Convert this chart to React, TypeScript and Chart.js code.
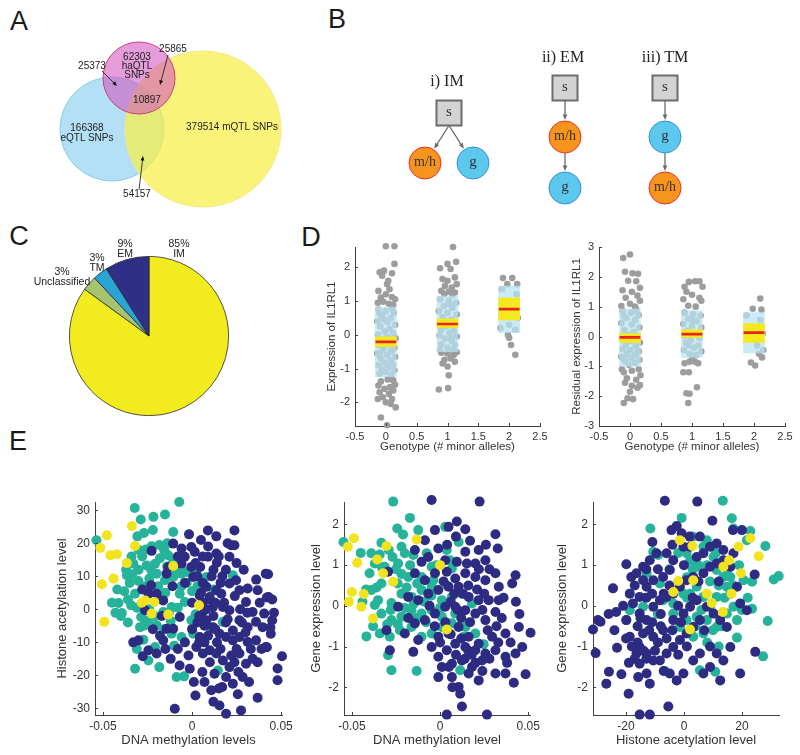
import React, { useEffect, useRef } from 'react';
import { Chart, registerables } from 'chart.js';
Chart.register(...registerables);

const SANS = '"Liberation Sans", Arial, Helvetica, sans-serif';
const SERIF = '"Liberation Serif", "Times New Roman", serif';
const AXIS = '#404040';
const TXT = '#333333';

// ---------------- Panel A: Venn ----------------
const vennSets = ['eQTL SNPs', 'mQTL SNPs', 'haQTL SNPs'];
const vennUnique = [166368, 379514, 62303];
const vennEHa = 25373;
const vennHaM = 25865;
const vennAll = 10897;
const vennEM = 54157;
// circle geometry (layout units of the diagram)
const vennCx = [112, 203, 139];
const vennCy = [129, 129, 78];
const vennR = [52, 78, 36];

// ---------------- Panel B: models ----------------
const bModels = ['i) IM', 'ii) EM', 'iii) TM'];
const bNodeLabel = ['s', 'm/h', 'g', 's', 'm/h', 'g', 's', 'g', 'm/h'];
const bNodeX = [449, 425, 473, 565, 565, 565, 665, 665, 665];
const bNodeY = [113, 163, 163, 88, 137, 188, 88, 137, 188];
const bEdges = [[0, 1], [0, 2], [3, 4], [4, 5], [6, 7], [7, 8]];

// ---------------- Panel C: pie ----------------
const pieLabels = ['IM', 'Unclassified', 'TM', 'EM'];
const pieValues = [85, 3, 3, 9];

// ---------------- Panel D ----------------
const genotypes = [0, 1, 2];
const dLeftPoints = [
  [0.0,2.62],[0.14,2.62],[0.14,2.1],[-0.1,1.85],[-0.03,1.9],[0.1,1.82],[-0.06,1.75],[0.04,1.6],[0.02,1.5],[-0.12,1.3],[0.06,1.35],[0.0,1.2],[-0.08,1.1],[0.1,1.12],[0.15,1.05],[-0.04,0.98],[0.05,0.92],[-0.13,0.95],[0.12,0.88],
  [-0.08,-1.38],[0.03,-1.32],[0.12,-1.35],[-0.12,-1.5],[0.07,-1.55],[-0.02,-1.6],[0.15,-1.48],[-0.1,-1.7],[0.05,-1.75],[-0.05,-1.85],[0.1,-1.9],[-0.13,-1.9],[0.0,-2.0],[0.08,-2.05],[0.16,-2.15],[-0.08,-2.45],[0.02,-2.68],[0.12,-1.65],
  [-0.12,0.75],[0.0,0.7],[0.13,0.65],[-0.06,0.55],[0.08,0.5],[-0.14,0.4],[0.03,0.38],[0.15,0.3],[-0.09,0.25],[0.06,0.18],[-0.02,0.1],[0.12,0.05],[-0.13,0.0],[0.02,-0.05],[0.16,-0.1],[-0.07,-0.15],[0.09,-0.2],[-0.12,-0.3],[0.0,-0.32],[0.14,-0.38],[-0.05,-0.45],[0.07,-0.5],[-0.14,-0.55],[0.02,-0.6],[0.15,-0.65],[-0.08,-0.7],[0.08,-0.75],[-0.02,-0.82],[0.12,-0.88],[-0.12,-0.9],[0.04,-0.95],[-0.06,-1.02],[0.14,-1.05],[0.0,-1.1],[-0.1,-1.15],[0.09,-1.18],[-0.03,0.45],[0.1,0.78],[-0.1,0.62],[0.05,-0.28],[-0.1,-0.62],[0.11,-0.45],
  [1.09,2.6],[0.88,1.97],[1.0,2.1],[1.14,2.16],[1.05,1.95],[0.92,1.65],[1.0,1.6],[1.12,1.7],[0.96,1.45],[1.07,1.4],[1.15,1.5],[0.9,1.3],[1.02,1.28],[1.12,1.25],[0.95,1.2],[1.08,1.18],
  [0.9,-0.53],[1.0,-0.55],[1.1,-0.6],[1.15,-0.52],[0.95,-0.74],[1.05,-0.7],[1.12,-0.8],[1.0,-0.94],[0.92,-0.85],[1.02,-1.2],[0.86,-1.62],[1.01,-1.58],
  [0.88,1.05],[1.02,1.0],[1.14,0.95],[0.94,0.85],[1.08,0.8],[0.86,0.7],[1.0,0.65],[1.15,0.6],[0.92,0.52],[1.06,0.45],[0.88,0.35],[1.12,0.3],[0.98,0.25],[0.9,0.15],[1.1,0.12],[1.03,0.05],[0.87,-0.02],[1.15,-0.05],[0.96,-0.12],[1.07,-0.18],[0.9,-0.28],[1.12,-0.3],[1.0,-0.38],[0.88,-0.45],[1.1,-0.45],[1.04,0.9],[0.96,0.4],[1.06,-0.1],
  [1.9,1.68],[2.05,1.68],[1.97,1.5],[2.13,1.5],[1.98,0.0],[2.0,-0.09],[2.03,-0.3],[2.1,-0.59],
  [1.88,1.35],[2.12,1.2],[1.95,1.0],[2.08,0.85],[1.9,0.6],[2.14,0.5],[2.0,0.3],[1.86,0.2],[2.1,0.15]
];
const dLeftBlue = [[-1.24, 0.82], [-0.5, 1.15], [0.06, 1.44]];
const dLeftYellow = [[-0.35, -0.06], [0.21, 0.47], [0.44, 1.09]];
const dLeftMean = [-0.21, 0.32, 0.76];

const dRightPoints = [
  [-0.11,2.63],[0.0,2.75],[-0.08,2.17],[0.04,2.12],[0.13,2.1],[-0.03,1.87],[0.1,1.85],[0.16,1.63],[-0.12,1.55],[0.03,1.5],[0.12,1.37],[-0.07,1.3],[0.16,1.2],[0.0,1.1],[-0.14,1.02],[0.08,1.0],
  [-0.1,-1.2],[0.03,-1.15],[0.14,-1.1],[-0.05,-1.4],[0.1,-1.45],[0.16,-1.63],[0.03,-1.65],[0.12,-1.72],[-0.08,-1.55],[0.17,-1.3],[-0.04,-2.07],[0.05,-2.1],[-0.1,-2.23],[0.0,-1.85],[-0.13,-1.1],
  [-0.12,0.85],[0.02,0.8],[0.14,0.72],[-0.06,0.62],[0.08,0.55],[-0.14,0.45],[0.03,0.4],[0.15,0.3],[-0.09,0.22],[0.06,0.15],[-0.02,0.05],[0.12,-0.02],[-0.13,-0.08],[0.02,-0.15],[0.16,-0.2],[-0.07,-0.28],[0.09,-0.33],[-0.12,-0.42],[0.0,-0.45],[0.14,-0.5],[-0.05,-0.58],[0.07,-0.62],[-0.14,-0.68],[0.02,-0.72],[0.15,-0.78],[-0.08,-0.82],[0.08,-0.88],[-0.02,-0.95],[0.1,0.9],[-0.1,0.68],[0.05,-0.1],[-0.1,-0.75],[0.11,-0.55],
  [0.88,1.67],[0.95,1.83],[1.05,1.85],[1.12,1.85],[1.17,1.67],[0.91,1.5],[1.0,1.4],[1.12,1.3],[0.94,1.03],[1.06,1.0],[1.15,1.2],[0.86,1.25],
  [0.88,-0.9],[0.96,-0.85],[1.05,-0.85],[1.1,-0.9],[0.86,-1.2],[0.95,-1.2],[1.08,-1.7],[0.91,-1.9],[0.96,-1.92],[0.94,-2.23],[1.0,-0.75],
  [0.88,0.8],[1.02,0.75],[1.14,0.7],[0.94,0.6],[1.08,0.52],[0.86,0.42],[1.0,0.35],[1.15,0.3],[0.92,0.2],[1.06,0.12],[0.88,0.02],[1.12,-0.05],[0.98,-0.12],[0.9,-0.22],[1.1,-0.3],[1.03,-0.38],[0.87,-0.45],[1.15,-0.5],[0.96,-0.58],[1.07,-0.62],[1.0,0.55],[0.95,-0.3],
  [2.1,1.27],[1.98,0.93],[2.12,0.9],[2.08,-0.58],[1.95,-0.87],[2.13,-0.7],[2.02,-0.97],
  [1.88,0.7],[2.1,0.55],[1.96,0.3],[2.14,0.1],[1.9,-0.1],[2.05,-0.3],[2.15,-0.45]
];
const dRightBlue = [[-1.0, 0.93], [-0.7, 0.87], [-0.55, 0.8]];
const dRightYellow = [[-0.2, 0.1], [-0.03, 0.23], [-0.2, 0.43]];
const dRightMean = [-0.03, 0.08, 0.13];

// ---------------- Panel E ----------------
const e1Yellow = [[-0.0478,22.4],[-0.0515,18.6],[-0.0459,16.4],[-0.0422,16.7],[-0.0506,7.6],[-0.0441,9.3],[-0.0493,-3.8],[-0.0338,25.2],[-0.032,19.2],[-0.0366,14.0],[-0.0264,2.7],[-0.0283,2.0],[-0.0227,-1.3],[-0.0106,13.1],[0.0039,1.2],[-0.0134,-1.6],[-0.0212,2.2]];
const e1Teal = [[-0.0537,20.9],[-0.0322,30.7],[-0.0288,27.2],[-0.0217,28.0],[-0.0152,28.7],[-0.0072,32.5],[-0.027,23.1],[-0.0307,22.1],[-0.0106,23.4],[-0.026,18.1],[-0.0227,19.1],[-0.0184,19.5],[-0.0156,17.9],[-0.0134,16.4],[-0.0106,14.3],[-0.0255,13.3],[-0.0208,13.8],[-0.0329,13.8],[-0.0366,10.3],[-0.0335,10.6],[-0.0301,8.6],[-0.024,9.3],[-0.0199,10.8],[-0.0152,8.8],[-0.0106,9.8],[-0.0059,10.8],[-0.0032,11.3],[0.0024,11.3],[0.008,9.8],[0.0229,10.3],[-0.0413,1.9],[-0.0394,-1.1],[-0.0342,1.2],[-0.032,4.7],[-0.0286,-2.3],[-0.0292,-5.4],[-0.0245,-3.3],[-0.0199,-4.8],[-0.0162,-0.8],[-0.0115,0.7],[-0.0069,4.7],[-0.0041,2.2],[-0.0004,-3.3],[0.0052,-3.3],[0.0099,-5.4],[0.0173,-3.8],[-0.0273,-9.2],[-0.0208,-11.4],[-0.0245,-15.5],[-0.0184,-17.5],[-0.032,-18.0],[-0.0087,-20.5],[-0.0045,-20.3],[-0.0115,-7.4],[-0.0059,-8.4],[0.0006,-7.4],[0.0145,-18.5],[-0.038,5.5],[-0.036,-4.0],[-0.031,0.5],[-0.021,5.0],[-0.012,-3.5],[-0.006,7.0],[0.0,5.5],[-0.017,3.0],[-0.026,7.0],[-0.014,13.0],[-0.018,15.5],[-0.008,0.5],[0.002,-1.5],[0.012,6],[-0.035,8.0],
  [-0.045,2],[-0.042,6],[-0.04,-2],[-0.037,12],[-0.034,16],[-0.03,12],[-0.028,16],[-0.023,12],[-0.019,7],[-0.015,5],[-0.013,-1],[-0.009,12],[-0.003,8],[0.003,7],[-0.027,-5],[-0.024,0],[-0.021,-2],[-0.016,-6],[-0.01,-11],[-0.031,-12],[-0.036,3],[-0.043,-1],[-0.014,20],[-0.022,24],[-0.03,18]];
const e1Navy = [[-0.0017,22.7],[-0.0106,19.9],[-0.0227,17.7],[-0.0004,18.9],[-0.0059,18.4],[-0.0041,15.9],[0.0015,17.4],[0.0089,23.9],[0.0136,22.1],[0.0238,23.9],[0.0219,19.4],[0.0238,19.4],[0.021,15.9],[0.0136,16.9],[0.0089,15.9],[0.0139,14.1],[0.0046,12.8],[0.0006,9.8],[0.008,6.8],[0.0043,4.2],[0.0099,3.7],[0.0136,5.8],[0.0164,4.7],[0.021,7.8],[0.0247,8.8],[0.0266,5.8],[0.0312,6.3],[0.0368,5.8],[0.0303,2.2],[0.034,-0.8],[0.0405,-1.3],[0.0414,10.8],[0.0429,3.7],[0.0396,-5.4],[0.0359,-3.8],[0.0312,-5.4],[0.0266,-3.3],[0.0229,-6.4],[0.021,-0.3],[0.0173,0.7],[0.0117,0.7],[0.0071,-0.3],[0.0052,-2.3],[0.008,-3.3],[0.0117,-5.4],[0.0154,-7.4],[0.0191,-8.4],[0.0229,-9.4],[0.0266,-8.4],[0.0312,-9.9],[0.0359,-9.4],[0.0414,-11.4],[0.0442,-7.4],[0.0043,-8.4],[0.0024,-11.4],[0.0061,-13.4],[0.0099,-12.4],[0.0136,-13.4],[0.0173,-15.5],[0.021,-17.5],[0.0238,-16.0],[0.0266,-13.4],[0.0303,-16.5],[0.0368,-16.0],[-0.0013,-18.0],[0.0058,-19.0],[0.0126,-19.5],[0.0169,-23.5],[0.0191,-20.5],[0.0229,-22.5],[0.0284,-20.5],[0.0257,-25.7],[0.0108,-24.5],[0.0019,-26.1],[0.0154,-29.1],[0.0191,-31.6],[0.0275,-30.6],[0.0368,-26.8],[-0.0097,-30.1],[-0.0106,-5.9],[-0.0069,-2.3],[-0.0143,-5.9],[-0.0162,-9.4],[-0.0199,-13.4],[-0.0245,-12.4],[-0.0301,-9.4],[-0.0277,-14.2],[-0.023,7.3],[-0.0199,4.7],[-0.0245,4.7],[-0.0162,2.7],[-0.0134,12.8],[-0.0143,10.8],[-0.0059,13.8],[-0.0004,12.8],[-0.0264,-0.3],[0.0427,10.6],[0.042,3.6],[0.045,-3.3],[0.044,-5.5],[0.042,-11.5],[0.0505,-14.2],[0.048,-17.9],[0.048,-21.5],[0.006,2],[0.007,-5],[0.006,8],[0.008,0],[0.009,-8],[0.005,5],[0.010,3],[0.003,-4],[0.012,-2],[0.011,10],[0.004,-10],[0.014,-10],[0.018,2],[0.02,-3],[0.017,10],[0.027,0],[0.029,12],[0.033,-12],[0.038,2],[0.015,-24],[0.025,-12],[-0.002,-14],[0.0,-6],[-0.004,8],[-0.008,-12],[-0.012,-15],[-0.017,-2],[-0.028,6],[-0.033,-10],[-0.022,-6],
  [0.002,14],[0.006,16],[0.012,12],[0.016,8],[0.019,12],[0.024,4],[0.028,-4],[0.031,-1],[0.036,9],[0.004,-2],[0.007,-10],[0.01,-16],[0.013,-6],[0.016,-12],[0.019,-4],[0.022,-14],[0.026,-19],[0.032,-22],[0.03,-7],[0.034,-15],[0.039,-12],[0.001,-22],[0.007,-22],[0.012,-28],[-0.004,-10],[-0.007,-17],[-0.015,-12],[-0.018,-8],[0.009,19],[0.005,21],[-0.008,16],[-0.011,7],[0.0,2],[0.003,10],[0.015,16],[0.02,20],[0.045,3],[0.046,-1],[0.025,14],[0.013,2]];

const e2Yellow = [[-0.0489,1.66],[-0.0523,1.45],[-0.047,1.06],[-0.050,0.34],[-0.0517,0.10],[-0.0433,0.29],[-0.0447,-0.02],[-0.038,-0.31],[-0.0357,1.14],[-0.0304,1.47],[-0.0323,0.80],[-0.0266,0.59],[-0.0133,1.63],[0.0,1.0],[0.0038,-0.58]];
const e2Teal = [[-0.0548,1.57],[-0.0266,2.56],[-0.0171,2.16],[-0.0243,1.90],[-0.0333,1.55],[-0.0291,1.37],[-0.039,1.29],[-0.0342,1.26],[-0.037,1.04],[-0.0314,0.96],[-0.0219,1.45],[-0.020,1.29],[-0.0152,1.25],[-0.0124,1.86],[-0.0076,1.29],[-0.0048,0.96],[0.0029,1.94],[0.0038,1.37],[0.0105,1.57],[0.0057,1.12],[0.0067,0.92],[-0.0238,1.04],[-0.0181,0.71],[-0.0105,0.71],[-0.0038,0.63],[-0.0333,0.55],[-0.039,0.39],[-0.0352,0.14],[-0.0276,0.07],[-0.0219,0.30],[-0.0162,0.22],[-0.0105,0.39],[-0.0048,0.47],[0.001,0.14],[0.0067,0.22],[0.0124,0.30],[0.0181,0.06],[-0.0333,-0.19],[-0.0276,-0.35],[-0.0219,-0.27],[-0.0162,-0.11],[-0.0105,-0.19],[-0.0048,-0.11],[0.001,-0.27],[0.0086,-0.19],[0.0143,-0.52],[0.020,-0.68],[-0.0418,-0.75],[-0.0342,-0.68],[-0.0285,-0.76],[-0.0228,-0.60],[-0.0162,-0.52],[-0.0105,-0.76],[-0.0048,-0.68],[0.001,-0.52],[0.0067,-0.43],[0.0133,-0.76],[0.0247,-0.94],[-0.0295,-1.21],[-0.0276,-1.58],[-0.0133,-1.60],[0.0114,-1.58],[-0.0219,0.78],[-0.037,0.02],[-0.036,0.45],[-0.025,0.9],[-0.015,0.05],[-0.008,-0.4],[-0.02,-0.05],[-0.03,-0.45],[0.004,0.5],[-0.045,1.3],
  [-0.04,0.8],[-0.042,0.4],[-0.038,-0.5],[-0.033,0.95],[-0.027,1.2],[-0.024,0.55],[-0.019,0.45],[-0.013,0.55],[-0.009,0.1],[-0.005,0.25],[-0.002,1.0],[-0.028,-0.1],[-0.024,-0.45],[-0.013,-0.3],[0.0,-0.05],[-0.017,1.0],[-0.021,1.75],[-0.044,0.1]];
const e2Navy = [[-0.0048,2.60],[0.0224,2.56],[0.0095,2.07],[0.0143,1.88],[0.0048,1.94],[-0.0029,1.86],[0.0314,1.76],[0.0327,1.41],[0.0219,1.37],[0.0143,1.33],[-0.001,1.41],[-0.0086,1.61],[-0.0143,1.37],[-0.0105,1.08],[-0.0067,1.20],[0.0029,1.12],[0.0095,1.08],[0.0152,1.04],[0.020,1.04],[0.0257,1.12],[0.0314,0.80],[0.0428,0.75],[0.0409,0.55],[0.0333,0.47],[0.0257,0.63],[0.020,0.71],[0.0143,0.80],[0.0086,0.67],[0.0038,0.84],[-0.0029,0.80],[-0.0086,0.63],[-0.0143,0.80],[-0.0181,0.22],[-0.0124,0.14],[-0.0067,0.30],[-0.001,0.39],[0.0048,0.47],[0.0105,0.47],[0.0162,0.22],[0.0219,0.14],[0.0276,0.14],[0.0333,0.14],[0.0314,-0.15],[0.0257,-0.35],[0.020,-0.19],[0.0143,-0.11],[0.0086,-0.02],[0.0029,-0.02],[-0.0029,-0.19],[-0.0086,-0.35],[-0.0143,-0.43],[-0.001,-0.76],[0.0048,-0.68],[0.0105,-0.52],[0.0162,-0.76],[0.0219,-0.93],[0.0295,-0.76],[0.0371,-0.68],[0.0447,-0.52],[0.0513,-0.66],[0.0466,-1.01],[0.0428,-1.17],[0.0371,-1.25],[0.0314,-1.09],[0.0257,-1.17],[0.020,-1.09],[0.0143,-1.01],[0.0086,-0.93],[0.0038,-1.09],[-0.001,-1.25],[-0.0048,-1.01],[0.001,-1.50],[0.0067,-1.42],[0.0124,-1.34],[0.0181,-1.50],[0.0238,-1.34],[0.0314,-1.66],[0.0371,-1.66],[0.0418,-1.89],[0.0485,-1.68],[0.0219,-1.83],[0.0162,-1.66],[0.0105,-1.99],[0.0067,-1.75],[-0.001,-1.75],[0.0114,-2.16],[0.0124,-2.47],[0.0038,-2.67],[0.0266,-2.67],[-0.0285,-1.09],[-0.0152,-1.13],[-0.0304,-0.60],[-0.020,-0.68],[-0.0124,-0.84],[-0.0295,0.84],[-0.0238,-0.02],[0.008,0.3],[0.012,-0.3],[0.006,-0.7],[0.016,0.5],[0.002,0.6],[0.018,-1.2],[0.024,-0.1],[0.028,0.9],[0.035,-0.3],[0.04,-0.9],[0.014,-1.3],[0.005,-1.5],
  [0.006,0.1],[0.01,-0.1],[0.013,0.3],[0.017,-0.4],[0.021,0.4],[0.025,0.3],[0.027,-0.6],[0.032,-0.5],[0.009,-1.2],[0.012,-0.8],[0.016,-1.1],[0.02,-1.4],[0.024,-1.6],[0.028,-1.3],[0.033,-0.9],[0.036,0.2],[0.038,-1.4],[0.003,-0.4],[-0.003,-0.5],[-0.006,0.0],[0.004,1.5],[0.009,1.7],[0.017,1.6],[0.022,0.9],[0.026,1.5],[0.0,-0.9],[0.007,-2.0],[0.043,0.1],[0.045,-0.2],[-0.018,-0.3]];

const e3Yellow = [[-1.4,1.61],[2.9,1.47],[15.6,1.12],[18.8,1.45],[22.9,1.66],[25.8,1.22],[19.7,0.80],[16.4,0.30],[13.4,-0.15],[2.1,-0.58],[-3.7,0.34],[-2.0,0.61],[9.6,0.07],[7.9,0.30],[3.2,0.63],[13.6,0.96]];
const e3Teal = [[13.4,2.58],[-0.8,2.16],[-11.6,1.90],[-10.6,1.33],[-8.9,1.25],[16.5,2.15],[17.1,1.90],[22.9,1.84],[21.7,1.61],[28.1,1.47],[31.0,0.65],[32.7,0.73],[23.5,0.59],[23.5,-0.07],[28.9,-0.37],[27.3,-1.24],[18.3,-0.78],[10.8,-1.62],[5.5,-1.58],[-6.6,-1.60],[-19.9,-0.35],[-18.7,-0.11],[-12.9,0.80],[-8.3,0.55],[-7.2,0.14],[-3.7,0.06],[-0.2,0.30],[0.9,1.29],[2.1,1.12],[4.4,0.96],[6.7,1.45],[7.9,1.61],[10.2,1.20],[11.3,0.88],[13.6,0.71],[14.8,0.47],[16.0,0.30],[17.1,-0.02],[11.3,0.22],[9.0,-0.02],[6.7,0.22],[4.4,0.47],[2.1,0.30],[0.9,-0.35],[4.4,-0.27],[7.9,-0.35],[11.3,-0.52],[14.8,-0.19],[6.7,-0.68],[3.2,-0.76],[-1.4,-0.52],[-3.7,-0.19],[18.3,-0.35],[16.0,0.71],[20.6,0.63],[-14.1,-0.02],[8,1.0],[12,0.5],[3,0.9],[-2,1.3],[6,-0.1],[10,-0.6],[14,0.2],[1,0.2],
  [5,1.0],[9,0.6],[11,1.3],[13,-0.5],[15,0.9],[17,0.5],[19,1.0],[20,-0.1],[4,-0.5],[8,-0.9],[12,-1.0],[1,0.7],[-5,0.9],[-9,-0.2],[3,1.7],[22,0.2]];
const e3Navy = [[-6.6,2.58],[4.6,2.56],[9.8,2.09],[-4.3,1.86],[-2.5,1.96],[-0.8,1.78],[-10.9,1.57],[16.9,1.86],[20.0,1.86],[-19.9,1.02],[-18.2,0.71],[-16.4,0.80],[-24.5,0.43],[-23.4,-0.15],[-31.4,-0.58],[-29.7,-0.35],[-28.8,-0.39],[-30.5,-1.16],[-23.1,-1.03],[-25.9,-1.62],[-26.8,-1.91],[-21.6,-1.68],[-19.1,-2.16],[-15.3,-2.67],[-11.8,-2.67],[-5.4,-2.47],[-15.8,-1.75],[-11.8,-1.91],[-16.4,-1.17],[-18.7,-0.76],[-19.9,-0.35],[-17.6,0.06],[-18.7,0.30],[-15.3,0.22],[-12.9,0.47],[-10.6,0.63],[-7.2,0.71],[-4.9,0.88],[-3.7,1.12],[-6.0,1.29],[-9.5,1.29],[-11.8,1.12],[-14.1,0.96],[-14.1,0.63],[-15.3,-0.19],[-12.9,-0.35],[-10.6,-0.02],[-8.3,0.14],[-6.0,0.22],[-3.7,0.30],[-1.4,0.47],[0.9,0.63],[3.2,0.71],[6.7,0.80],[9.0,0.96],[11.3,1.04],[13.6,1.12],[16.0,0.96],[17.1,1.29],[9.0,1.45],[6.7,1.29],[4.4,1.20],[2.1,1.45],[-0.2,1.45],[5.5,1.70],[11.3,1.53],[13.6,1.37],[18.3,0.47],[19.4,0.06],[21.7,-0.11],[24.4,0.77],[24.6,-1.13],[19.4,-1.66],[16.0,-1.01],[14.8,-0.52],[12.5,-0.35],[10.2,-0.19],[7.9,-0.02],[5.5,-0.35],[3.2,-0.52],[0.9,-0.68],[-1.4,-0.84],[-3.7,-1.01],[-6.0,-1.17],[-8.3,-1.34],[-10.6,-1.34],[-12.9,-1.17],[-15.3,-1.01],[-14.1,-0.68],[-10.6,-0.76],[-7.2,-0.60],[-3.7,-0.35],[-0.2,-0.19],[2.1,-0.02],[4.4,0.14],[-4.9,-1.66],[-2.5,-1.83],[-0.2,-1.66],[3.2,-1.34],[5.5,-1.17],[6.7,-1.66],[9.0,-1.50],[12.5,-1.83],[11.3,-1.17],[13.6,-1.34],[-15.3,-1.42],[-12.9,-1.66],[-17,-1.3],[-13,-1.3],[-9,-0.9],[-11,-0.4],[-16,-0.5],[-8,-0.2],[-5,0.5],[-2,0.0],[-13,0.2],[-6,-0.8],
  [-20,-0.8],[-18,-1.0],[-16,-0.9],[-14,-1.1],[-12,-0.6],[-10,-1.1],[-8,-0.5],[-7,0.3],[-4,-0.6],[-2,-1.2],[1,-1.0],[3,0.2],[5,0.6],[-9,0.9],[-13,0.9],[-17,0.5],[-21,0.0],[-15,-0.3],[-11,0.3],[-19,-1.4],[-7,-1.6],[-4,1.5],[0,1.0],[7,-0.6],[9,-1.0],[12,0.6],[-1,-0.4],[-24,-0.6],[-26,-0.2],[2,1.7]];

// ---------------- helpers ----------------
const NAVY = '#2d2b82';
const TEAL = '#26b39a';
const YEL = '#f1e41f';

const fmt = (v: number) => { const r = Math.round(v * 10000) / 10000; return String(r === 0 ? 0 : r); };

const base = {
  animation: false,
  responsive: false,
  maintainAspectRatio: false,
  events: [],
  plugins: { legend: { display: false }, tooltip: { enabled: false } },
};

function linAxis(o: any) {
  const isX = o.axis === 'x';
  return {
    type: 'linear',
    position: isX ? 'bottom' : 'left',
    min: o.min,
    max: o.max,
    offset: false,
    grid: { display: false, drawTicks: false, tickLength: 0 },
    border: { display: true, color: AXIS, width: 1 },
    ticks: {
      color: TXT, font: { family: SANS, size: o.tickSize }, padding: o.tickPad,
      autoSkip: false, maxRotation: 0, minRotation: 0,
      callback: (v: any) => fmt(Number(v)),
    },
    afterBuildTicks: (s: any) => { s.ticks = o.ticks.map((v: number) => ({ value: v })); },
    afterFit: (s: any) => {
      if (isX) s.height = o.size; else s.width = o.size;
      s.paddingLeft = 0; s.paddingRight = 0; s.paddingTop = 0; s.paddingBottom = 0;
    },
    title: {
      display: true, text: o.title, color: TXT, font: { family: SANS, size: o.titleSize },
      padding: isX ? { top: 0, bottom: o.titlePad } : { top: o.titlePad, bottom: 0 },
    },
  };
}

const inTicks = {
  id: 'inTicks',
  afterDraw(chart: any) {
    const { ctx, chartArea: a, scales } = chart;
    ctx.save();
    ctx.strokeStyle = AXIS;
    ctx.lineWidth = 1;
    scales.x.ticks.forEach((t: any) => {
      const p = Math.round(scales.x.getPixelForValue(t.value)) + 0.5;
      ctx.beginPath(); ctx.moveTo(p, a.bottom); ctx.lineTo(p, a.bottom - 3); ctx.stroke();
    });
    scales.y.ticks.forEach((t: any) => {
      const p = Math.round(scales.y.getPixelForValue(t.value)) + 0.5;
      ctx.beginPath(); ctx.moveTo(a.left, p); ctx.lineTo(a.left + 3, p); ctx.stroke();
    });
    ctx.restore();
  },
};

function drawArrow(ctx: any, x1: number, y1: number, x2: number, y2: number, color: string, lw: number, head: number) {
  const ang = Math.atan2(y2 - y1, x2 - x1);
  ctx.strokeStyle = color; ctx.fillStyle = color; ctx.lineWidth = lw;
  ctx.beginPath(); ctx.moveTo(x1, y1);
  ctx.lineTo(x2 - Math.cos(ang) * head * 0.8, y2 - Math.sin(ang) * head * 0.8); ctx.stroke();
  ctx.beginPath();
  ctx.moveTo(x2, y2);
  ctx.lineTo(x2 - head * Math.cos(ang - 0.4), y2 - head * Math.sin(ang - 0.4));
  ctx.lineTo(x2 - head * Math.cos(ang + 0.4), y2 - head * Math.sin(ang + 0.4));
  ctx.closePath(); ctx.fill();
}

function ChartCanvas({ x, y, w, h, make }: { x: number; y: number; w: number; h: number; make: () => any }) {
  const ref = useRef<HTMLCanvasElement>(null);
  useEffect(() => {
    const chart = new Chart(ref.current as HTMLCanvasElement, make());
    return () => chart.destroy();
  }, []);
  return <canvas ref={ref} width={w} height={h} style={{ position: 'absolute', left: x, top: y, width: w, height: h }} />;
}

function T({ x, y, s, size = 10.5, font = SANS, color = '#222', lh }: any) {
  return (
    <div style={{
      position: 'absolute', left: x, top: y, transform: 'translate(-50%,-50%)', fontFamily: font,
      fontSize: size, lineHeight: (lh ?? size * 1.15) + 'px', color, whiteSpace: 'pre', textAlign: 'center',
    }}>{s}</div>
  );
}

// ---------------- chart configs ----------------
const VENN_X0 = 0, VENN_Y0 = 30;
const vennArrows = [[102, 71, 117, 86], [168, 55, 160, 85], [139, 190, 143, 156]];
function vennConfig() {
  return {
    type: 'bubble',
    data: {
      datasets: [{
        data: vennCx.map((x, i) => ({ x, y: vennCy[i], r: vennR[i] })),
        backgroundColor: ['#b3e0f4', 'rgba(246,239,70,0.72)', 'rgba(210,84,192,0.58)'],
        borderColor: ['#86cdec', '#f1e98a', '#cc3f78'],
        borderWidth: 1,
        clip: false,
      }],
    },
    options: {
      ...base,
      layout: { padding: 0, autoPadding: false },
      scales: {
        x: { type: 'linear', display: false, min: VENN_X0, max: VENN_X0 + 295 },
        y: { type: 'linear', display: false, min: VENN_Y0, max: VENN_Y0 + 185, reverse: true },
      },
    },
    plugins: [{
      id: 'vennArrows',
      afterDatasetsDraw(chart: any) {
        const ctx = chart.ctx; ctx.save();
        vennArrows.forEach(([a, b, c, d]) => drawArrow(ctx, a - VENN_X0, b - VENN_Y0, c - VENN_X0, d - VENN_Y0, '#111', 0.8, 5));
        ctx.restore();
      },
    }],
  };
}

const B_X0 = 330, B_Y0 = 40;
function bConfig() {
  const isSq = bNodeLabel.map((l) => l === 's');
  return {
    type: 'scatter',
    data: {
      datasets: [{
        data: bNodeX.map((x, i) => ({ x, y: bNodeY[i] })),
        pointStyle: isSq.map((s) => (s ? 'rect' : 'circle')),
        pointRadius: isSq.map((s) => (s ? 17.7 : 16)),
        backgroundColor: bNodeLabel.map((l) => (l === 's' ? '#d3d3d3' : l === 'g' ? '#5cc8ee' : '#f7941d')),
        borderColor: bNodeLabel.map((l) => (l === 's' ? '#6c6c6c' : l === 'g' ? '#3a8fd0' : '#e4352b')),
        borderWidth: isSq.map((s) => (s ? 2 : 1)),
        clip: false,
      }],
    },
    options: {
      ...base,
      layout: { padding: 0, autoPadding: false },
      scales: {
        x: { type: 'linear', display: false, min: B_X0, max: B_X0 + 380 },
        y: { type: 'linear', display: false, min: B_Y0, max: B_Y0 + 170, reverse: true },
      },
    },
    plugins: [{
      id: 'bArrows',
      beforeDatasetsDraw(chart: any) {
        const ctx = chart.ctx; ctx.save();
        const sx = chart.scales.x, sy = chart.scales.y;
        bEdges.forEach(([a, b]) => {
          const ax = sx.getPixelForValue(bNodeX[a]), ay = sy.getPixelForValue(bNodeY[a]);
          const bx = sx.getPixelForValue(bNodeX[b]), by = sy.getPixelForValue(bNodeY[b]);
          let x1, y1;
          if (isSq[a]) { x1 = ax; y1 = ay + 12.5; }
          else { const d = Math.hypot(bx - ax, by - ay); x1 = ax + (bx - ax) / d * 16; y1 = ay + (by - ay) / d * 16; }
          const d2 = Math.hypot(bx - x1, by - y1);
          const x2 = bx - (bx - x1) / d2 * 17, y2 = by - (by - y1) / d2 * 17;
          drawArrow(ctx, x1, y1, x2, y2, '#6c6c6c', 1.3, 6);
        });
        ctx.restore();
      },
    }],
  };
}

function pieConfig() {
  return {
    type: 'pie',
    data: {
      labels: pieLabels,
      datasets: [{ data: pieValues, backgroundColor: ['#f2ec1f', '#a6c46f', '#2aa3d6', '#2e2f86'], borderColor: '#2a2a2a', borderWidth: 0.8 }],
    },
    options: { ...base, layout: { padding: { left: 69, right: 61, top: 41, bottom: 4 }, autoPadding: false } },
  };
}

function dConfig(points: number[][], blue: number[][], yellow: number[][], means: number[], yMin: number, yMax: number, yTicks: number[], yTitle: string, ySize: number, yTitlePad: number, padRight: number) {
  const halfW = 0.168;
  const meanLine: any[] = [];
  means.forEach((m, i) => {
    meanLine.push({ x: genotypes[i] - halfW, y: m }, { x: genotypes[i] + halfW, y: m }, { x: genotypes[i] + 0.5, y: null });
  });
  return {
    type: 'scatter',
    data: {
      datasets: [
        { type: 'scatter', data: points.map(([x, y]) => ({ x, y })), backgroundColor: '#9d9d9d', borderWidth: 0, pointRadius: 3.3, clip: false, order: 3 },
        { type: 'bar', data: genotypes.map((g, i) => ({ x: g, y: blue[i] })), backgroundColor: 'rgba(184,226,241,0.74)', borderWidth: 0, grouped: false, maxBarThickness: 21, barThickness: 21, order: 2 },
        { type: 'bar', data: genotypes.map((g, i) => ({ x: g, y: yellow[i] })), backgroundColor: '#f4e91f', borderWidth: 0, grouped: false, maxBarThickness: 21, barThickness: 21, order: 1 },
        { type: 'line', data: meanLine, borderColor: '#e8251f', borderWidth: 2.6, pointRadius: 0, spanGaps: false, clip: false, order: 0 },
      ],
    },
    options: {
      ...base,
      layout: { padding: { left: 0, top: 12, right: padRight, bottom: 0 }, autoPadding: false },
      scales: {
        x: linAxis({ axis: 'x', min: -0.5, max: 2.5, ticks: [-0.5, 0, 0.5, 1, 1.5, 2, 2.5], title: 'Genotype (# minor alleles)', size: 34, tickSize: 11, tickPad: 4, titleSize: 11.5, titlePad: 6 }),
        y: linAxis({ axis: 'y', min: yMin, max: yMax, ticks: yTicks, title: yTitle, size: ySize, tickSize: 11, tickPad: 5, titleSize: 11.5, titlePad: yTitlePad }),
      },
    },
    plugins: [inTicks],
  };
}

function eConfig(navy: number[][], teal: number[][], yellow: number[][], xAx: any, yAx: any, padRight: number) {
  const ds = (data: number[][], color: string, order: number) => ({
    type: 'scatter', data: data.map(([x, y]) => ({ x, y })), backgroundColor: color, borderWidth: 0,
    pointRadius: 5, clip: false, order,
  });
  return {
    type: 'scatter',
    data: { datasets: [ds(teal, TEAL, 3), ds(navy, NAVY, 2), ds(yellow, YEL, 1)] },
    options: {
      ...base,
      layout: { padding: { left: 0, top: 12, right: padRight, bottom: 0 }, autoPadding: false },
      scales: { x: xAx, y: yAx },
    },
    plugins: [inTicks],
  };
}

const eX = (min: number, max: number, ticks: number[], title: string) =>
  linAxis({ axis: 'x', min, max, ticks, title, size: 40, tickSize: 12, tickPad: 4, titleSize: 13, titlePad: 7 });
const eY = (min: number, max: number, ticks: number[], title: string, size: number, titlePad: number) =>
  linAxis({ axis: 'y', min, max, ticks, title, size, tickSize: 12, tickPad: 5, titleSize: 13, titlePad });

export default function App() {
  const pieTexts = [
    { x: 179, y: 248, s: pieValues[0] + '%\n' + pieLabels[0] },
    { x: 125, y: 248, s: pieValues[3] + '%\n' + pieLabels[3] },
    { x: 97, y: 262, s: pieValues[2] + '%\n' + pieLabels[2] },
    { x: 62, y: 276, s: pieValues[1] + '%\n' + pieLabels[1] },
  ];
  return (
    <div style={{ position: 'absolute', left: 0, top: 0, width: 800, height: 755, background: '#fff', overflow: 'hidden', fontFamily: SANS }}>
      <T x={19} y={22} s="A" size={27} color="#1a1a1a" />
      <T x={337} y={20} s="B" size={27} color="#1a1a1a" />
      <T x={19} y={237} s="C" size={27} color="#1a1a1a" />
      <T x={311} y={238} s="D" size={27} color="#1a1a1a" />
      <T x={18} y={442} s="E" size={27} color="#1a1a1a" />

      <ChartCanvas x={VENN_X0} y={VENN_Y0} w={295} h={185} make={vennConfig} />
      <T x={137} y={65} s={vennUnique[2] + '\nhaQTL\nSNPs'} size={10} lh={9} />
      <T x={92} y={66} s={String(vennEHa)} size={10} />
      <T x={173} y={49} s={String(vennHaM)} size={10} />
      <T x={147} y={100} s={String(vennAll)} size={10} />
      <T x={87} y={133} s={vennUnique[0] + '\n' + vennSets[0]} size={10} lh={10} />
      <T x={232} y={127} s={vennUnique[1] + ' ' + vennSets[1]} size={10} />
      <T x={137} y={194} s={String(vennEM)} size={10} />

      <ChartCanvas x={B_X0} y={B_Y0} w={380} h={170} make={bConfig} />
      <T x={447} y={81} s={bModels[0]} size={16} font={SERIF} />
      <T x={563} y={57} s={bModels[1]} size={16} font={SERIF} />
      <T x={665} y={57} s={bModels[2]} size={16} font={SERIF} />
      {bNodeLabel.map((l, i) => (
        <T key={i} x={bNodeX[i]} y={bNodeY[i] - 1} s={l} size={l === 'm/h' ? 14 : 15} font={SERIF} color="#333" />
      ))}

      <ChartCanvas x={0} y={215} w={290} h={205} make={pieConfig} />
      {pieTexts.map((p, i) => <T key={i} x={p.x} y={p.y} s={p.s} size={10.5} lh={9.5} />)}

      <ChartCanvas x={320} y={235} w={228} h={225}
        make={() => dConfig(dLeftPoints, dLeftBlue, dLeftYellow, dLeftMean, -2.7, 2.6, [-2, -1, 0, 1, 2], 'Expression of IL1RL1', 35, 5, 8)} />
      <ChartCanvas x={558} y={235} w={237} h={225}
        make={() => dConfig(dRightPoints, dRightBlue, dRightYellow, dRightMean, -3, 3, [-3, -2, -1, 0, 1, 2, 3], 'Residual expression of IL1RL1', 41, 12, 10)} />

      <ChartCanvas x={50} y={490} w={250} h={265}
        make={() => eConfig(e1Navy, e1Teal, e1Yellow, eX(-0.0545, 0.0505, [-0.05, 0, 0.05], 'DNA methylation levels'), eY(-32, 32.5, [-30, -20, -10, 0, 10, 20, 30], 'Histone acetylation level', 45, 5), 18)} />
      <ChartCanvas x={300} y={490} w={245} h={265}
        make={() => eConfig(e2Navy, e2Teal, e2Yellow, eX(-0.0545, 0.051, [-0.05, 0, 0.05], 'DNA methylation level'), eY(-2.68, 2.55, [-2, -1, 0, 1, 2], 'Gene expression level', 44, 9), 15)} />
      <ChartCanvas x={545} y={490} w={250} h={265}
        make={() => eConfig(e3Navy, e3Teal, e3Yellow, eX(-31.4, 32.8, [-20, 0, 20], 'Histone acetylation level'), eY(-2.68, 2.55, [-2, -1, 0, 1, 2], 'Gene expression level', 48, 10), 16)} />
    </div>
  );
}
